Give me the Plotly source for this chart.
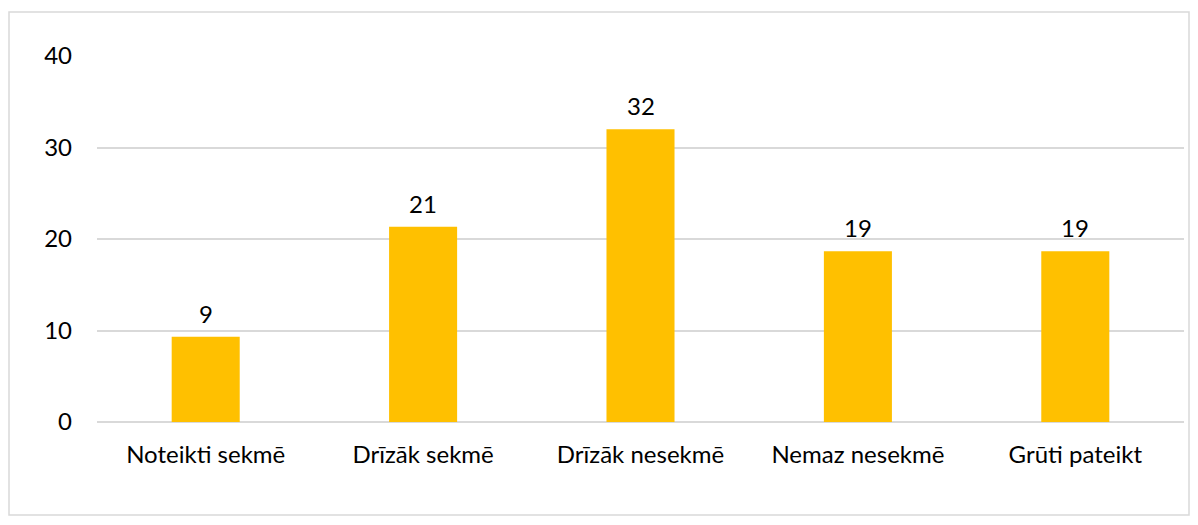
import plotly.graph_objects as go

categories = ["Noteikti sekmē", "Drīzāk sekmē", "Drīzāk nesekmē", "Nemaz nesekmē", "Grūti pateikt"]
values = [9.33, 21.33, 32.0, 18.67, 18.67]
y_ticks = [0, 10, 20, 30, 40]

W, H = 1198, 525
# page body has an 8px offset; margins compensate for it
ml, mr, mt, mb = 89, 22, 48, 111
pw, ph = W - ml - mr, H - mt - mb

font = "Lato, Carlito, Calibri, sans-serif"
fs = 24

fig = go.Figure(go.Bar(x=categories, y=values, marker=dict(color="#FFC000", line=dict(width=0)),
                       hoverinfo="x+y"))

for c, v in zip(categories, values):
    fig.add_annotation(x=c, y=v, text=f"{v:.0f}", showarrow=False, yanchor="bottom",
                       yshift=7, font=dict(size=fs, color="#000000", family=font))

# outer chart border
bx0, bx1, by0, by1 = 1, 1181, 4, 507
fig.add_shape(type="rect", xref="paper", yref="paper",
              x0=(bx0 - ml) / pw, x1=(bx1 - ml) / pw,
              y0=1 - (by1 - mt) / ph, y1=1 - (by0 - mt) / ph,
              line=dict(color="#D9D9D9", width=1.5), fillcolor="rgba(0,0,0,0)", layer="below")

fig.update_layout(
    width=W, height=H,
    margin=dict(l=ml, r=mr, t=mt, b=mb),
    plot_bgcolor="white", paper_bgcolor="white",
    bargap=0.687,
    showlegend=False,
    font=dict(family=font, size=fs, color="#000000"),
    xaxis=dict(showgrid=False, showline=False, ticks="", ticklabelstandoff=16,
               tickfont=dict(size=fs, color="#000000")),
    yaxis=dict(range=[0, 40], tickvals=y_ticks, showgrid=True, gridcolor="#D9D9D9", gridwidth=1.5,
               zeroline=True, zerolinecolor="#D9D9D9", zerolinewidth=1.5, showline=False,
               ticks="", ticklabelstandoff=24, tickfont=dict(size=fs, color="#000000")),
)

fig.write_html("out.html")
